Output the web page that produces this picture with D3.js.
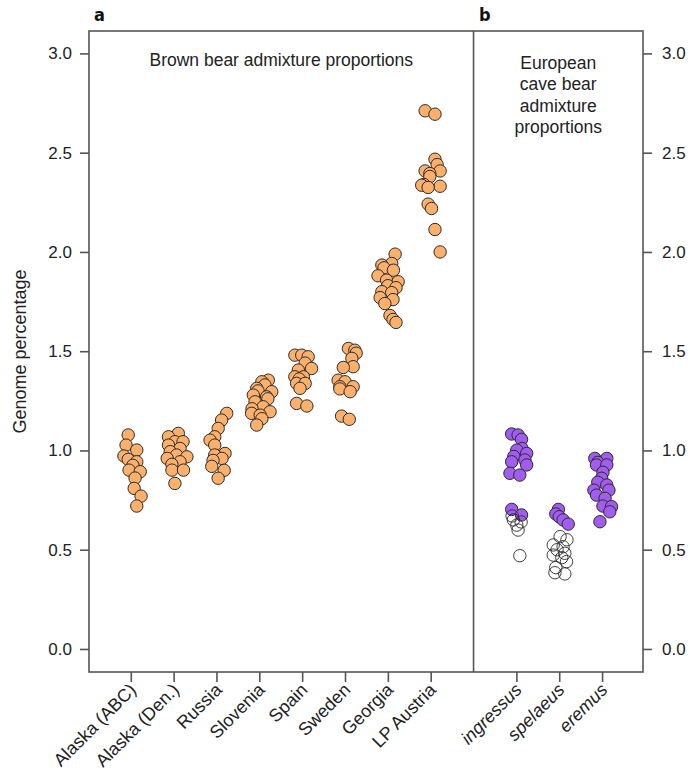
<!DOCTYPE html>
<html><head><meta charset="utf-8">
<script src="https://cdn.jsdelivr.net/npm/d3@7/dist/d3.min.js"></script>
<style>body{margin:0;background:#fff}svg{display:block}text{font-family:"Liberation Sans",Arial,sans-serif}</style>
</head><body><svg id="c" width="690" height="775"></svg>
<script>
// ---------- DATA ----------
const brownCategories = ["Alaska (ABC)","Alaska (Den.)","Russia","Slovenia","Spain","Sweden","Georgia","LP Austria"];
const caveCategories = ["ingressus","spelaeus","eremus"];
const yTicks = [0.0,0.5,1.0,1.5,2.0,2.5,3.0];

// brown bear admixture (%), one array per population; jitter = horizontal offset in category units
const alaskaABC = [1.078,1.027,1.002,0.972,0.955,0.943,0.925,0.901,0.893,0.861,0.809,0.770,0.720];
const alaskaABCJit = [-0.06,-0.11,0.14,-0.16,-0.06,0.14,0.05,-0.04,0.22,0.10,0.08,0.24,0.14];
const alaskaDen = [1.086,1.069,1.044,1.044,1.027,1.010,0.994,0.977,0.968,0.960,0.943,0.930,0.901,0.901,0.834];
const alaskaDenJit = [0.11,-0.12,0.03,0.22,-0.12,0.15,-0.08,0.07,0.31,-0.15,0.15,-0.04,-0.04,0.23,0.03];
const russia = [1.187,1.153,1.111,1.069,1.052,1.027,0.985,0.977,0.960,0.950,0.920,0.900,0.860];
const russiaJit = [0.24,0.12,0.04,-0.04,-0.15,-0.04,0.20,-0.04,0.13,-0.08,-0.11,0.18,0.04];
const slovenia = [1.354,1.346,1.330,1.313,1.300,1.296,1.279,1.270,1.260,1.245,1.220,1.210,1.195,1.187,1.178,1.160,1.128];
const sloveniaJit = [0.21,0.06,0.13,-0.06,-0.03,0.29,-0.14,0.17,0.20,-0.10,0.09,-0.17,0.25,-0.18,0.02,0.06,-0.06];
const spain = [1.480,1.480,1.472,1.440,1.413,1.405,1.371,1.371,1.360,1.338,1.338,1.313,1.237,1.224];
const spainJit = [-0.17,-0.01,0.14,0.07,0.22,-0.09,-0.17,0.03,-0.07,-0.13,0.07,-0.05,-0.13,0.11];
const sweden = [1.514,1.505,1.490,1.464,1.422,1.418,1.354,1.346,1.321,1.321,1.310,1.296,1.173,1.157];
const swedenJit = [0.08,0.23,0.26,0.16,0.19,-0.04,-0.16,0.00,0.19,-0.12,-0.12,0.12,-0.08,0.10];
const georgia = [1.989,1.942,1.934,1.920,1.908,1.880,1.858,1.850,1.830,1.820,1.800,1.795,1.770,1.760,1.740,1.680,1.660,1.645];
const georgiaJit = [0.17,0.09,-0.14,-0.09,0.13,-0.23,-0.03,0.24,0.00,0.19,-0.14,0.09,-0.18,0.12,-0.07,0.05,0.12,0.19];
const lpAustria = [2.711,2.694,2.467,2.440,2.408,2.408,2.395,2.380,2.340,2.336,2.331,2.325,2.241,2.219,2.113,2.000];
const lpAustriaJit = [-0.13,0.10,0.10,0.15,-0.13,0.22,-0.02,-0.02,-0.16,-0.21,0.22,-0.06,-0.06,0.02,0.10,0.22];

// cave bear admixture (%): filled = significant, open = not
const ingressusFilled = [1.083,1.078,1.056,1.010,1.002,0.985,0.970,0.952,0.943,0.927,0.885,0.876,0.703,0.675];
const ingressusFilledJit = [-0.11,0.04,0.12,0.13,0.01,0.24,-0.06,0.20,-0.11,0.24,-0.15,0.08,-0.11,0.12];
const ingressusOpen = [0.670,0.650,0.640,0.624,0.599,0.470];
const ingressusOpenJit = [-0.10,-0.07,0.11,0.01,0.04,0.08];
const spelaeusFilled = [0.703,0.680,0.666,0.650,0.629];
const spelaeusFilledJit = [-0.02,-0.08,0.00,0.09,0.21];
const spelaeusOpen = [0.566,0.550,0.524,0.515,0.500,0.482,0.473,0.460,0.440,0.410,0.384,0.378];
const spelaeusOpenJit = [0.02,0.18,-0.14,0.09,-0.05,0.13,-0.14,0.06,0.17,-0.08,-0.10,0.13];
const eremusFilled = [0.960,0.960,0.940,0.927,0.927,0.890,0.860,0.840,0.826,0.800,0.800,0.775,0.759,0.720,0.717,0.691,0.641];
const eremusFilledJit = [-0.17,0.11,-0.10,-0.13,0.11,0.02,-0.01,-0.10,0.11,0.16,-0.19,-0.13,0.07,0.02,0.22,0.18,-0.05];
const eremusOpen = [];
const eremusOpenJit = [];

// ---------- BUILD ----------
const brownVals = [alaskaABC,alaskaDen,russia,slovenia,spain,sweden,georgia,lpAustria];
const brownJits = [alaskaABCJit,alaskaDenJit,russiaJit,sloveniaJit,spainJit,swedenJit,georgiaJit,lpAustriaJit];
const caveFilled = [ingressusFilled,spelaeusFilled,eremusFilled];
const caveFilledJ = [ingressusFilledJit,spelaeusFilledJit,eremusFilledJit];
const caveOpen = [ingressusOpen,spelaeusOpen,eremusOpen];
const caveOpenJ = [ingressusOpenJit,spelaeusOpenJit,eremusOpenJit];

const brownPts = [], filledPts = [], openPts = [];
brownVals.forEach((arr,i)=>arr.forEach((v,j)=>brownPts.push({pos:i+1+brownJits[i][j], v})));
caveFilled.forEach((arr,i)=>arr.forEach((v,j)=>filledPts.push({pos:i+10+caveFilledJ[i][j], v})));
caveOpen.forEach((arr,i)=>arr.forEach((v,j)=>openPts.push({pos:i+10+caveOpenJ[i][j], v})));

const svg = d3.select("#c");
const L=89, R=643, T=31, B=672;
const x = d3.scaleLinear().domain([0.025,12.955]).range([L,R]);
const y = d3.scaleLinear().domain([-0.116,3.113]).range([B,T]);
const axisCol = "#555";

// points
const r = 6.2;
svg.append("g").selectAll("circle").data(brownPts).join("circle")
  .attr("cx",d=>x(d.pos)).attr("cy",d=>y(d.v)).attr("r",r)
  .attr("fill","#FBB06C").attr("stroke","#2b2b2b").attr("stroke-width",1);
svg.append("g").selectAll("circle").data(filledPts).join("circle")
  .attr("cx",d=>x(d.pos)).attr("cy",d=>y(d.v)).attr("r",r)
  .attr("fill","#A35CF0").attr("stroke","#2b2b2b").attr("stroke-width",1);
svg.append("g").selectAll("circle").data(openPts).join("circle")
  .attr("cx",d=>x(d.pos)).attr("cy",d=>y(d.v)).attr("r",r)
  .attr("fill","none").attr("stroke","#2b2b2b").attr("stroke-width",0.9);

// box and divider
svg.append("rect").attr("x",L).attr("y",T).attr("width",R-L).attr("height",B-T)
  .attr("fill","none").attr("stroke",axisCol).attr("stroke-width",1.6);
svg.append("line").attr("x1",x(9)).attr("x2",x(9)).attr("y1",T).attr("y2",B)
  .attr("stroke",axisCol).attr("stroke-width",1.6);

// y axes
const fmt = d3.format(".1f");
const yl = svg.append("g").attr("transform",`translate(${L},0)`)
  .call(d3.axisLeft(y).tickValues(yTicks).tickFormat(fmt).tickSize(9).tickPadding(8));
const yr = svg.append("g").attr("transform",`translate(${R},0)`)
  .call(d3.axisRight(y).tickValues(yTicks).tickFormat(fmt).tickSize(9).tickPadding(10));
// x axis
const xTickVals = d3.range(1,9).concat([10,11,12]);
const xa = svg.append("g").attr("transform",`translate(0,${B})`)
  .call(d3.axisBottom(x).tickValues(xTickVals).tickSize(10).tickFormat(d=>d<9?brownCategories[d-1]:caveCategories[d-10]));
[yl,yr,xa].forEach(g=>{
  g.select(".domain").remove();
  g.selectAll(".tick line").attr("stroke",axisCol).attr("stroke-width",1.6);
  g.selectAll("text").attr("fill","#222").style("font-size","17px").style("font-family","Liberation Sans, Arial, sans-serif");
});
xa.selectAll("text").attr("text-anchor","end").attr("dy",null).attr("y",0)
  .style("font-size","18px")
  .attr("transform","translate(6,19) rotate(-45)")
  .style("font-style",d=>d>=10?"italic":"normal");

// titles
svg.append("text").attr("x",(L+x(9))/2).attr("y",66).attr("text-anchor","middle")
  .style("font-size","17.5px").attr("fill","#222").text("Brown bear admixture proportions");
const caveLines = ["European","cave bear","admixture","proportions"];
svg.append("g").selectAll("text").data(caveLines).join("text")
  .attr("x",(x(9)+R)/2).attr("y",(d,i)=>69+i*21.3).attr("text-anchor","middle")
  .style("font-size","17.5px").attr("fill","#222").text(d=>d);
svg.append("text").attr("transform",`translate(26,${(T+B)/2}) rotate(-90)`).attr("text-anchor","middle")
  .style("font-size","18px").attr("fill","#222").text("Genome percentage");
svg.append("text").attr("x",94).attr("y",21).style("font-size","18px").style("font-weight","bold")
  .style("font-family","DejaVu Sans Condensed, Liberation Sans Narrow, sans-serif").attr("fill","#111").text("a");
svg.append("text").attr("x",479).attr("y",21).style("font-size","18px").style("font-weight","bold")
  .style("font-family","DejaVu Sans Condensed, Liberation Sans Narrow, sans-serif").attr("fill","#111").text("b");
</script></body></html>
